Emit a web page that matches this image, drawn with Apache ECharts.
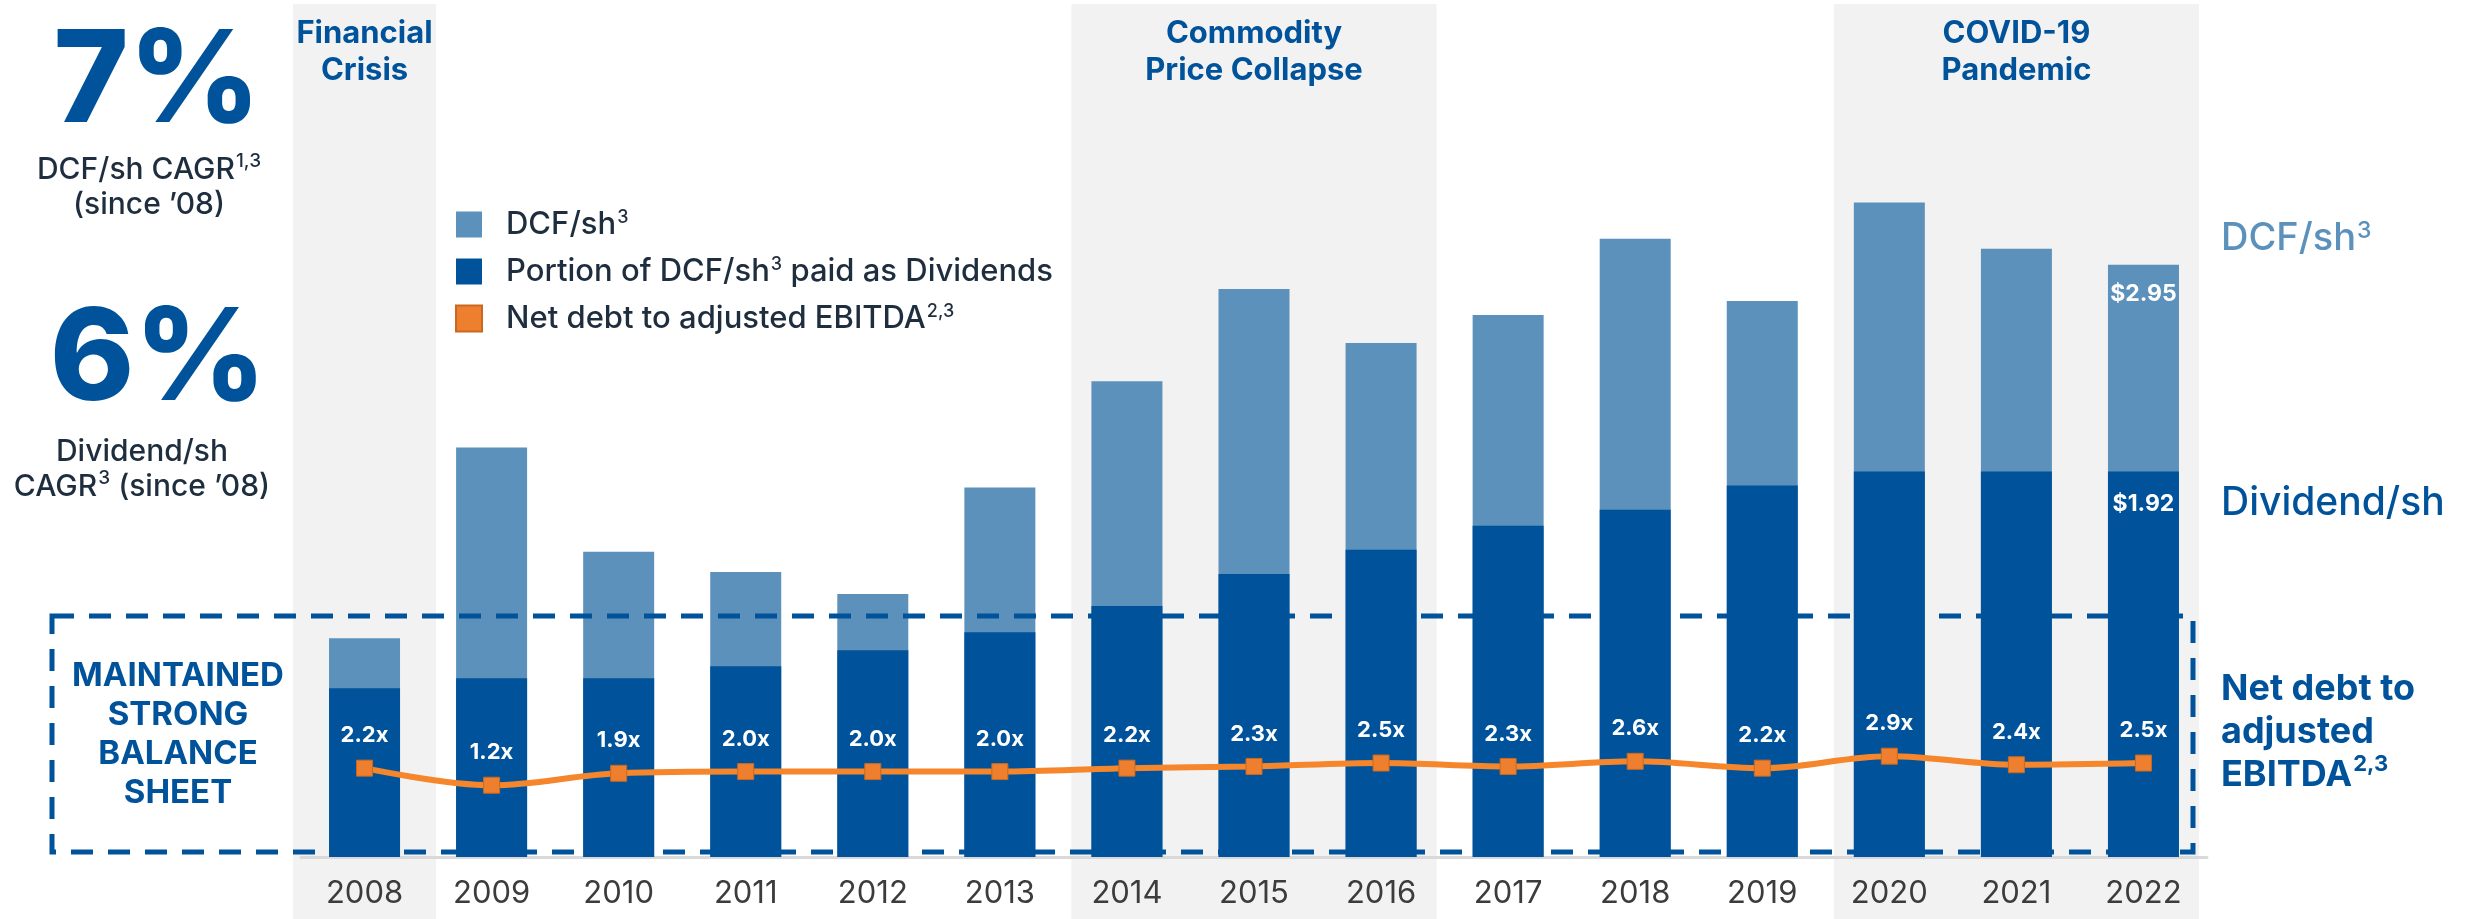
<!DOCTYPE html>
<html>
<head>
<meta charset="utf-8">
<script src="https://cdn.jsdelivr.net/npm/echarts@6/dist/echarts.min.js"></script>
<style>
  html, body { margin: 0; padding: 0; background: #ffffff; }
  #chart { width: 2465px; height: 919px; }
</style>
</head>
<body>
<div id="chart"></div>
<script>
// Fiscal years on the category axis
const years = ['2008', '2009', '2010', '2011', '2012', '2013', '2014', '2015',
               '2016', '2017', '2018', '2019', '2020', '2021', '2022'];

// Distributable cash flow per share ($)
const dcfPerShare = [1.09, 2.04, 1.52, 1.42, 1.31, 1.84, 2.37, 2.83,
                     2.56, 2.70, 3.08, 2.77, 3.26, 3.03, 2.95];

// Dividend per share ($) – the portion of DCF/sh paid out
const dividendPerShare = [0.84, 0.89, 0.89, 0.95, 1.03, 1.12, 1.25, 1.41,
                          1.53, 1.65, 1.73, 1.85, 1.92, 1.92, 1.92];

// Net debt to adjusted EBITDA (x)
const netDebtToEbitda = [2.2, 1.2, 1.9, 2.0, 2.0, 2.0, 2.2, 2.3,
                         2.5, 2.3, 2.6, 2.2, 2.9, 2.4, 2.5];

// Shaded periods: [label, first year, last year]
const periods = [
  ['Financial\nCrisis', '2008', '2008'],
  ['Commodity\nPrice Collapse', '2014', '2016'],
  ['COVID-19\nPandemic', '2020', '2022']
];

const FONT = 'Inter, "Noto Sans", sans-serif';
const NAVY = '#00539b';
const LIGHT = '#5b91bb';
const ORANGE = '#f5862b';
const INK = '#1f2e3e';
const lastIdx = years.length - 1;

const legendRich = {
  DCF: '{t|DCF/sh}{s|3}',
  DIV: '{t|Portion of DCF/sh}{s|3}{t| paid as Dividends}',
  ND: '{t|Net debt to adjusted EBITDA}{s|2,3}'
};
const seriesNames = {
  DCF: 'DCF/sh³',
  DIV: 'Portion of DCF/sh³ paid as Dividends',
  ND: 'Net debt to adjusted EBITDA²˒³'
};

const chart = echarts.init(document.getElementById('chart'));

// Rich-text styles for a main run plus a raised superscript run
const supRich = (size, color, weight, supSize) => ({
  t: { fontSize: size, color: color, fill: color, fontWeight: weight, fontFamily: FONT },
  s: { fontSize: supSize, color: color, fill: color, fontWeight: weight, fontFamily: FONT,
       verticalAlign: 'top', padding: [0, 0, 0, 1] }
});

function text(x, y, str, opts) {
  return {
    type: 'text', x: x, y: y, z: 50, silent: true,
    style: Object.assign({
      text: str, fontFamily: FONT, align: 'center', verticalAlign: 'middle'
    }, opts)
  };
}

const option = {
  animation: false,
  backgroundColor: '#ffffff',
  grid: { left: 301, right: 258, top: 54, bottom: 62, containLabel: false },
  legend: {
    left: 450, top: 204, orient: 'vertical',
    icon: 'rect', itemWidth: 26, itemHeight: 26, itemGap: 16,
    selectedMode: false,
    data: [seriesNames.DCF, seriesNames.DIV, seriesNames.ND],
    formatter: function (name) {
      if (name === seriesNames.DCF) return legendRich.DCF;
      if (name === seriesNames.DIV) return legendRich.DIV;
      return legendRich.ND;
    },
    textStyle: {
      padding: [0, 0, 0, 19],
      rich: supRich(31, INK, 500, 18)
    }
  },
  xAxis: {
    type: 'category',
    data: years,
    axisTick: { show: false },
    axisLine: { lineStyle: { color: '#d9d9d9', width: 3 } },
    axisLabel: { color: '#3c3c3c', fontSize: 31, margin: 21, fontFamily: FONT }
  },
  yAxis: [
    { type: 'value', min: 0, max: 4, show: false },
    { type: 'value', min: -3, max: 44, show: false }
  ],
  series: [
    {
      name: seriesNames.DCF,
      type: 'bar',
      barWidth: 71,
      barGap: '-100%',
      itemStyle: { color: LIGHT },
      label: {
        show: false, position: 'insideTop', distance: 18,
        color: '#ffffff', fontWeight: 700, fontSize: 23, fontFamily: FONT,
        formatter: p => '$' + p.value.toFixed(2)
      },
      data: dcfPerShare.map((v, i) => i === lastIdx ? { value: v, label: { show: true } } : v)
    },
    {
      name: seriesNames.DIV,
      type: 'bar',
      barWidth: 71,
      barGap: '-100%',
      itemStyle: { color: NAVY },
      label: {
        show: false, position: 'insideTop', distance: 21,
        color: '#ffffff', fontWeight: 700, fontSize: 23, fontFamily: FONT,
        formatter: p => '$' + p.value.toFixed(2)
      },
      data: dividendPerShare.map((v, i) => i === lastIdx ? { value: v, label: { show: true } } : v)
    },
    {
      name: seriesNames.ND,
      type: 'line',
      yAxisIndex: 1,
      smooth: 0.35,
      symbol: 'rect',
      symbolSize: 16,
      z: 5,
      lineStyle: { color: ORANGE, width: 6 },
      itemStyle: { color: '#ee7f2f', borderColor: '#c9691f', borderWidth: 1 },
      label: {
        show: true, position: 'top', distance: 13,
        color: '#ffffff', fontWeight: 700, fontSize: 22, fontFamily: FONT,
        formatter: p => p.value.toFixed(1) + 'x'
      },
      data: netDebtToEbitda
    }
  ]
};

chart.setOption(option);

// Shaded event bands and their titles, placed from the category positions
const band = [];
const step = chart.convertToPixel({ xAxisIndex: 0 }, '2009') - chart.convertToPixel({ xAxisIndex: 0 }, '2008');
periods.forEach(([label, from, to]) => {
  const x0 = chart.convertToPixel({ xAxisIndex: 0 }, from);
  const x1 = chart.convertToPixel({ xAxisIndex: 0 }, to);
  const pad = from === to ? 8 + step / 2 : step / 2 - 8;
  band.push({
    type: 'rect', z: -5, silent: true,
    shape: { x: x0 - pad, y: 4, width: x1 - x0 + 2 * pad, height: 915 },
    style: { fill: '#f2f2f2' }
  });
  band.push(text((x0 + x1) / 2, 52, label, {
    fontSize: 31, fontWeight: 700, fill: NAVY, lineHeight: 37
  }));
});

const notes = [
  // CAGR callouts
  text(157, 84, '7%', { fontSize: 128, fontWeight: 800, fill: NAVY }),
  text(149, 187, '{t|DCF/sh CAGR}{s|1,3}\n{t|(since ’08)}', {
    rich: supRich(30, INK, 500, 19), lineHeight: 35
  }),
  text(158, 362, '6%', { fontSize: 128, fontWeight: 800, fill: NAVY }),
  text(142, 469, '{t|Dividend/sh}\n{t|CAGR}{s|3}{t| (since ’08)}', {
    rich: supRich(30, INK, 500, 19), lineHeight: 35
  }),
  // Balance sheet callout
  text(178, 735, 'MAINTAINED\nSTRONG\nBALANCE\nSHEET', {
    fontSize: 33, fontWeight: 700, fill: NAVY, lineHeight: 39
  }),
  // Right-hand series captions
  text(2221, 239, '{t|DCF/sh}{s|3}', {
    align: 'left', rich: supRich(38, LIGHT, 500, 23)
  }),
  text(2221, 503, 'Dividend/sh', {
    align: 'left', fontSize: 39, fontWeight: 500, fill: NAVY
  }),
  text(2221, 732, '{t|Net debt to}\n{t|adjusted}\n{t|EBITDA}{s|2,3}', {
    align: 'left', rich: supRich(36, NAVY, 700, 22), lineHeight: 43
  }),
  // Dashed frame around the leverage line
  {
    type: 'rect', z: 60, silent: true,
    shape: { x: 52, y: 616, width: 2141, height: 236 },
    style: { fill: 'none', stroke: NAVY, lineWidth: 5, lineDash: [22, 15] }
  }
];

chart.setOption({ graphic: band.concat(notes) });
</script>
</body>
</html>
